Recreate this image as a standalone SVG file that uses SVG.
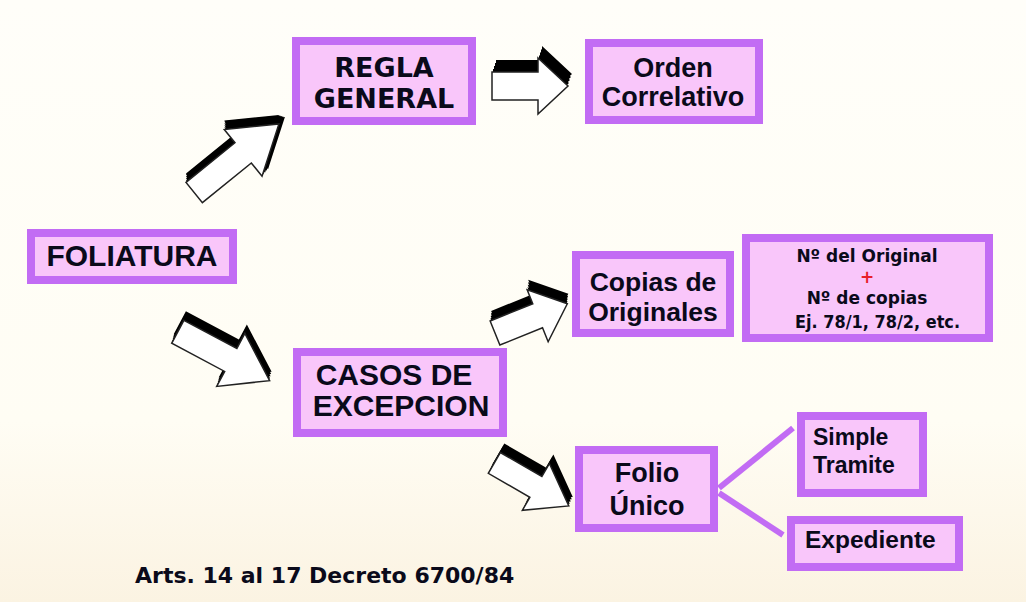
<svg xmlns="http://www.w3.org/2000/svg" xmlns:xlink="http://www.w3.org/1999/xlink" width="1026" height="602" viewBox="0 0 1026 602">
<style>
.box{fill:#F9C6FA;stroke:#C26CF4;stroke-width:8}
.t{font-family:"Liberation Sans",Arial,sans-serif;font-weight:bold;fill:#0A0A1A}
.v{font-family:"DejaVu Sans",Verdana,sans-serif;font-weight:bold;fill:#0A0A1A}
.sh{fill:#000}
.wa{fill:#fff;stroke:#222;stroke-width:1.5;stroke-linejoin:miter}
.ln{stroke:#C26CF4;stroke-width:6;fill:none}
</style>
<defs>
<linearGradient id="bg" x1="0" y1="0" x2="0" y2="1">
<stop offset="0" stop-color="#FFFEF9"/>
<stop offset="0.7" stop-color="#FFFDF4"/>
<stop offset="1" stop-color="#FBF3E2"/>
</linearGradient>
<path id="arrA" d="M0,-13 H63 V-30 L109,0 L63,30 V13 H0 Z" transform="translate(194.2,192.5) rotate(-39)"/>
<path id="arrB" d="M0,-14 H46 V-28 L76,0 L46,28 V14 H0 Z" transform="translate(492,86)"/>
<path id="arrC" d="M0,-13 H60 V-30 L104,0 L60,30 V13 H0 Z" transform="translate(177.8,331.8) rotate(28)"/>
<path id="arrD" d="M0,-13 H46 V-28 L78,0 L46,28 V13 H0 Z" transform="translate(495,333) rotate(-22)"/>
<path id="arrE" d="M0,-12 H48 V-27 L86,0 L48,27 V12 H0 Z" transform="translate(494.3,462.9) rotate(30)"/>
</defs>
<rect x="0" y="0" width="1026" height="602" fill="url(#bg)"/>

<g id="connectors">
<g id="arrow-foliatura-regla">
<use href="#arrA" class="sh" transform="translate(0,-2)"/>
<use href="#arrA" class="sh" transform="translate(0,-4)"/>
<use href="#arrA" class="sh" transform="translate(0,-6)"/>
<use href="#arrA" class="sh" transform="translate(0,-8)"/>
<use href="#arrA" class="sh" transform="translate(0,-9)"/>
<use href="#arrA" class="sh" transform="translate(1.5,-1.8)"/>
<use href="#arrA" class="sh" transform="translate(3,-3.5)"/>
<use href="#arrA" class="sh" transform="translate(4.5,-5.3)"/>
<use href="#arrA" class="sh" transform="translate(6,-7)"/>
<use href="#arrA" class="sh" transform="translate(3,-8)"/>
<use href="#arrA" class="sh" transform="translate(1.5,-8.5)"/>
<use href="#arrA" class="sh" transform="translate(4.5,-7.5)"/>
<use href="#arrA" class="wa"/>
</g>
<g id="arrow-regla-orden">
<use href="#arrB" class="sh" transform="translate(1,-3)"/>
<use href="#arrB" class="sh" transform="translate(2,-6)"/>
<use href="#arrB" class="sh" transform="translate(3,-9)"/>
<use href="#arrB" class="sh" transform="translate(4,-12)"/>
<use href="#arrB" class="wa"/>
</g>
<g id="arrow-foliatura-casos">
<use href="#arrC" class="sh" transform="translate(0.5,-2.2)"/>
<use href="#arrC" class="sh" transform="translate(1,-4.5)"/>
<use href="#arrC" class="sh" transform="translate(1.5,-6.7)"/>
<use href="#arrC" class="sh" transform="translate(2,-9)"/>
<use href="#arrC" class="wa"/>
</g>
<g id="arrow-casos-copias">
<use href="#arrD" class="sh" transform="translate(0.25,-2.5)"/>
<use href="#arrD" class="sh" transform="translate(0.5,-5)"/>
<use href="#arrD" class="sh" transform="translate(0.75,-7.5)"/>
<use href="#arrD" class="sh" transform="translate(1,-10)"/>
<use href="#arrD" class="wa"/>
</g>
<g id="arrow-casos-folio">
<use href="#arrE" class="sh" transform="translate(1,-2.2)"/>
<use href="#arrE" class="sh" transform="translate(2,-4.5)"/>
<use href="#arrE" class="sh" transform="translate(3,-6.7)"/>
<use href="#arrE" class="sh" transform="translate(4,-9)"/>
<use href="#arrE" class="wa"/>
</g>
<line class="ln" x1="719" y1="488" x2="793" y2="428"/>
<line class="ln" x1="719" y1="493" x2="783" y2="535"/>
</g>

<g id="regla-general">
<rect class="box" x="296" y="41" width="176" height="80"/>
<text class="v" font-size="27" text-anchor="middle" x="384" y="77">REGLA</text>
<text class="v" font-size="27" text-anchor="middle" x="384" y="108">GENERAL</text>
</g>

<g id="orden-correlativo">
<rect class="box" x="589" y="43" width="170" height="77"/>
<text class="t" font-size="27" text-anchor="middle" x="673" y="77">Orden</text>
<text class="t" font-size="27" text-anchor="middle" x="673" y="106">Correlativo</text>
</g>

<g id="foliatura">
<rect class="box" x="31" y="233" width="202" height="47"/>
<text class="t" font-size="30" text-anchor="middle" x="132" y="266">FOLIATURA</text>
</g>

<g id="copias-originales">
<rect class="box" x="576" y="255" width="154" height="78"/>
<text class="t" font-size="26.5" text-anchor="middle" x="653" y="291">Copias de</text>
<text class="t" font-size="26.5" text-anchor="middle" x="653" y="321">Originales</text>
</g>

<g id="numeracion">
<rect class="box" x="746" y="238" width="243" height="100"/>
<text class="v" font-size="17" text-anchor="middle" x="867" y="262">Nº del Original</text>
<text class="v" font-size="17" text-anchor="middle" x="867" y="283" style="fill:#E8202A">+</text>
<text class="v" font-size="17" text-anchor="middle" x="867" y="304">Nº de copias</text>
<text class="v" font-size="17" x="795" y="328" textLength="165" lengthAdjust="spacingAndGlyphs">Ej. 78/1, 78/2, etc.</text>
</g>

<g id="casos-excepcion">
<rect class="box" x="297" y="352" width="206" height="81"/>
<text class="t" font-size="30" text-anchor="middle" x="394" y="385">CASOS DE</text>
<text class="t" font-size="30" text-anchor="middle" x="401" y="416">EXCEPCION</text>
</g>

<g id="folio-unico">
<rect class="box" x="579" y="450" width="135" height="78"/>
<text class="t" font-size="27" text-anchor="middle" x="647" y="482">Folio</text>
<text class="t" font-size="27" text-anchor="middle" x="647" y="515">Único</text>
</g>

<g id="simple-tramite">
<rect class="box" x="801" y="416" width="122" height="77"/>
<text class="t" font-size="23" x="813" y="445">Simple</text>
<text class="t" font-size="23" x="813" y="473">Tramite</text>
</g>

<g id="expediente">
<rect class="box" x="791" y="520" width="168" height="47"/>
<text class="t" font-size="24.5" x="805" y="548">Expediente</text>
</g>

<text class="v" font-size="22" x="135" y="583">Arts. 14 al 17 Decreto 6700/84</text>
</svg>
